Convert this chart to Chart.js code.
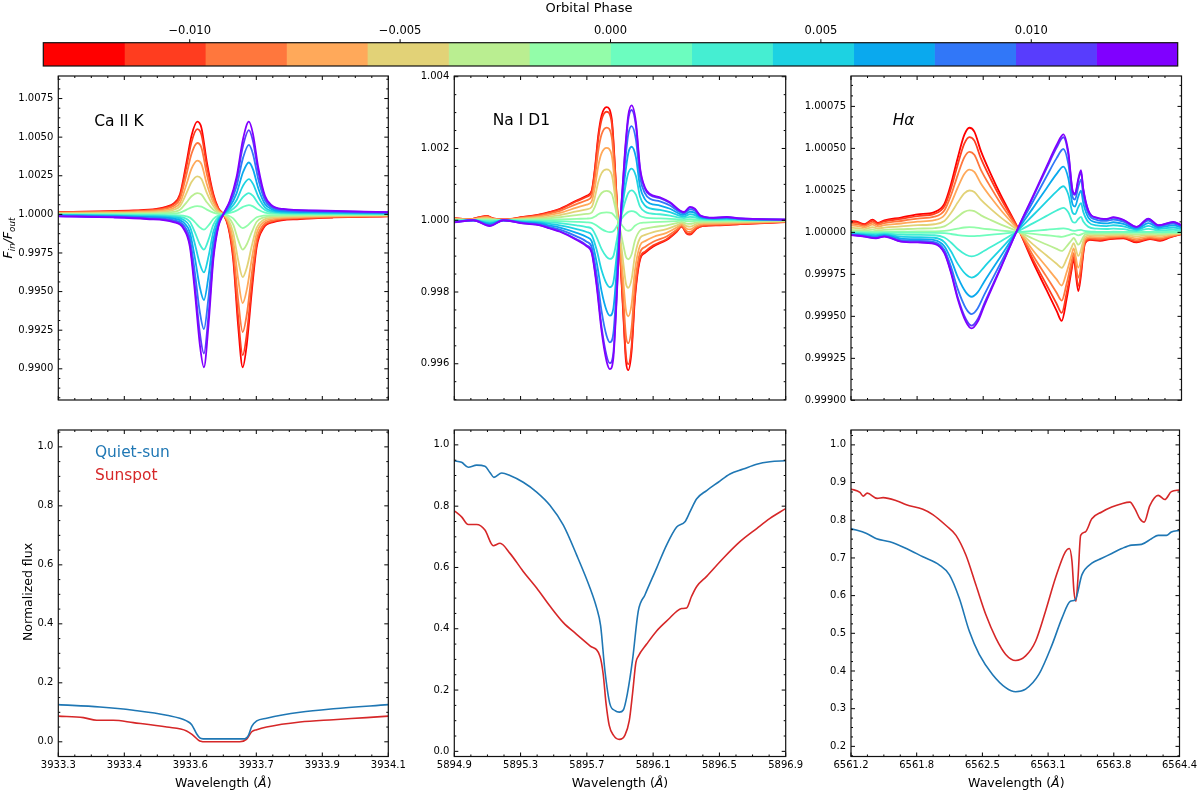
<!DOCTYPE html>
<html>
<head>
<meta charset="utf-8">
<script src="https://cdn.jsdelivr.net/npm/chart.js@4.4.1/dist/chart.umd.min.js"></script>
<style>
  html, body { margin: 0; padding: 0; background: #fff; }
  #fig { position: relative; width: 1200px; height: 791px; overflow: hidden; background: #fff; }
  #fig canvas { position: absolute; }
</style>
</head>
<body>
<div id="fig"></div>
<script>
const FONT = "'DejaVu Sans', sans-serif";

// orbital phase bins (colour bar) and their colours
const phaseEdges = [-0.01348, -0.01155, -0.00963, -0.00770, -0.00578, -0.00385, -0.00193, 0,
                    0.00193, 0.00385, 0.00578, 0.00770, 0.00963, 0.01155, 0.01348];
const phaseColors = ['#ff0000', '#ff3d1f', '#ff773d', '#ffa95a', '#e2d277', '#baee91', '#93fda9',
                     '#6cfdbf', '#45eed2', '#1dd2e2', '#0aa9ee', '#3177f8', '#583dfd', '#8000ff'];
const phaseTicks = [-0.010, -0.005, 0.000, 0.005, 0.010];

// top row: (F_in/F_out - 1) x 1e4 for the first (red) and last (purple) phase,
// and the relative amplitude of every phase curve
const caRedWl = [3933.300, 3933.401, 3933.482, 3933.538, 3933.563, 3933.579, 3933.595, 3933.611, 3933.623,
                 3933.637, 3933.647, 3933.660, 3933.676, 3933.688, 3933.700, 3933.712, 3933.724, 3933.736,
                 3933.747, 3933.757, 3933.769, 3933.781, 3933.797, 3933.821, 3933.886, 3933.967, 3934.100];
const caRedDev = [1.5, 2, 2.5, 3.5, 5, 7, 13, 34, 51, 60, 56, 34, 13, 4, 0, -8, -29, -72, -99, -84, -50, -21,
                  -9, -5, -3, -2, -1.3];
const caPurWl = [3933.300, 3933.433, 3933.514, 3933.579, 3933.603, 3933.619, 3933.631, 3933.643, 3933.653,
                 3933.664, 3933.676, 3933.688, 3933.700, 3933.716, 3933.732, 3933.748, 3933.762, 3933.772,
                 3933.785, 3933.801, 3933.817, 3933.845, 3933.926, 3934.100];
const caPurDev = [-1.3, -2, -3, -5, -9, -21, -50, -84, -99, -72, -29, -8, 0, 9, 24, 49, 60, 52, 30, 12, 6,
                  3.5, 2.5, 1.5];
const caAmp = [1, 0.92, 0.77, 0.58, 0.41, 0.23, 0.09, 0.1, 0.23, 0.38, 0.56, 0.75, 0.91, 1];

const naRedWl = [5894.900, 5894.995, 5895.055, 5895.095, 5895.135, 5895.196, 5895.316, 5895.417, 5895.477,
                 5895.538, 5895.638, 5895.699, 5895.729, 5895.749, 5895.769, 5895.789, 5895.819, 5895.850,
                 5895.870, 5895.884, 5895.900, 5895.920, 5895.936, 5895.950, 5895.970, 5895.990, 5896.021,
                 5896.051, 5896.101, 5896.181, 5896.242, 5896.272, 5896.302, 5896.322, 5896.363, 5896.403,
                 5896.503, 5896.624, 5896.900];
const naRedDev = [0.6, 0.3, 0.9, 1.2, 0.5, 0.2, 0.9, 1.6, 2.3, 3.2, 5.5, 6.8, 8.2, 14.6, 23.7, 29.2, 31.5,
                  28.3, 14.6, 2.7, -9.1, -26.5, -39.3, -41.8, -36.5, -21.9, -11.0, -9.1, -7.3, -5.5, -3.2,
                  -1.8, -3.7, -4.0, -2.3, -1.6, -1.4, -1.1, -0.5];
const naPurWl = [5894.900, 5895.015, 5895.115, 5895.196, 5895.316, 5895.417, 5895.477, 5895.538, 5895.638,
                 5895.699, 5895.729, 5895.759, 5895.789, 5895.819, 5895.839, 5895.860, 5895.880, 5895.896,
                 5895.910, 5895.930, 5895.950, 5895.970, 5895.996, 5896.021, 5896.051, 5896.081, 5896.141,
                 5896.202, 5896.262, 5896.286, 5896.322, 5896.352, 5896.383, 5896.463, 5896.544, 5896.624,
                 5896.900];
const naPurDev = [-0.6, 0, -1.6, 0, -0.9, -1.4, -2.3, -3.2, -5.5, -7.3, -9.1, -18.3, -31.0, -39.3, -41.5,
                  -38.4, -21.9, -5.5, 5.5, 19.2, 29.2, 32.0, 27.4, 14.6, 9.1, 7.3, 6.4, 5.0, 2.7, 2.3, 3.7,
                  3.2, 1.4, 0.7, 0.9, 0.5, 0.2];
const naAmp = [1, 0.96, 0.82, 0.64, 0.45, 0.26, 0.07, 0.08, 0.26, 0.45, 0.64, 0.82, 0.96, 1];

const haRedWl = [6561.200, 6561.265, 6561.329, 6561.410, 6561.458, 6561.523, 6561.684, 6561.845, 6562.007,
                 6562.104, 6562.168, 6562.233, 6562.297, 6562.346, 6562.394, 6562.459, 6562.555, 6562.652,
                 6562.817, 6562.965, 6563.094, 6563.191, 6563.240, 6563.288, 6563.337, 6563.356, 6563.401,
                 6563.466, 6563.514, 6563.611, 6563.708, 6563.837, 6563.966, 6564.095, 6564.192, 6564.289,
                 6564.400];
const haRedDev = [0.68, 0.62, 0.49, 0.76, 0.57, 0.72, 0.88, 1.07, 1.21, 1.7, 2.87, 4.43, 5.8, 6.23, 6.0, 4.82,
                  3.46, 2.2, 0.25, -1.82, -3.44, -4.67, -5.27, -3.96, -2.2, -1.6, -3.5, -0.65, -0.45, -0.5,
                  -0.4, -0.35, -0.6, -0.4, -0.5, -0.3, -0.1];
const haPurWl = [6561.200, 6561.265, 6561.329, 6561.442, 6561.523, 6561.684, 6561.845, 6562.007, 6562.104,
                 6562.168, 6562.233, 6562.313, 6562.368, 6562.426, 6562.491, 6562.652, 6562.817, 6562.965,
                 6563.094, 6563.191, 6563.256, 6563.304, 6563.346, 6563.369, 6563.401, 6563.427, 6563.449,
                 6563.498, 6563.579, 6563.675, 6563.740, 6563.837, 6563.966, 6564.079, 6564.176, 6564.321,
                 6564.400];
const haPurDev = [-0.16, -0.2, -0.25, -0.35, -0.25, -0.55, -0.6, -0.68, -1.23, -2.4, -3.96, -5.33, -5.72,
                  -5.33, -4.36, -2.1, 0.25, 2.2, 3.93, 5.2, 5.84, 4.8, 2.48, 2.3, 3.2, 3.7, 2.6, 1.31, 0.88,
                  0.8, 0.9, 0.75, 0.33, 0.82, 0.43, 0.62, 0.43];
const haAmp = [1, 0.91, 0.77, 0.60, 0.40, 0.21, 0.05, 0.04, 0.25, 0.47, 0.67, 0.85, 0.97, 1];

// bottom row: normalized flux, quiet sun and sunspot
const caQuietWl = [3933.300, 3933.401, 3933.482, 3933.563, 3933.611, 3933.623, 3933.635, 3933.643, 3933.651,
                   3933.700, 3933.752, 3933.761, 3933.769, 3933.781, 3933.805, 3933.886, 3933.967, 3934.100];
const caQuiet = [0.126, 0.118, 0.107, 0.090, 0.071, 0.059, 0.028, 0.013, 0.010, 0.010, 0.010, 0.022, 0.052,
                 0.071, 0.080, 0.100, 0.112, 0.126];
const caSpotWl = [3933.300, 3933.361, 3933.393, 3933.433, 3933.482, 3933.563, 3933.611, 3933.627, 3933.643,
                  3933.660, 3933.740, 3933.756, 3933.769, 3933.781, 3933.805, 3933.886, 3933.967, 3934.047,
                  3934.100];
const caSpot = [0.087, 0.082, 0.073, 0.073, 0.065, 0.050, 0.037, 0.022, 0.003, 0.0, 0.0, 0.008, 0.034, 0.041,
                0.050, 0.067, 0.075, 0.082, 0.087];

const naQuietWl = [5894.900, 5894.944, 5894.984, 5895.035, 5895.085, 5895.115, 5895.139, 5895.186, 5895.236,
                   5895.316, 5895.397, 5895.477, 5895.558, 5895.638, 5895.719, 5895.759, 5895.783, 5895.809,
                   5895.839, 5895.870, 5895.896, 5895.920, 5895.944, 5895.976, 5896.010, 5896.051, 5896.121,
                   5896.181, 5896.242, 5896.292, 5896.322, 5896.363, 5896.423, 5896.493, 5896.564, 5896.644,
                   5896.725, 5896.805, 5896.900];
const naQuiet = [0.948, 0.943, 0.927, 0.934, 0.930, 0.910, 0.894, 0.908, 0.900, 0.878, 0.846, 0.803, 0.738,
                 0.641, 0.533, 0.468, 0.410, 0.263, 0.155, 0.133, 0.128, 0.135, 0.187, 0.300, 0.457, 0.511,
                 0.598, 0.673, 0.732, 0.749, 0.781, 0.824, 0.851, 0.878, 0.905, 0.921, 0.937, 0.945, 0.948];
const naSpotWl = [5894.900, 5894.944, 5894.984, 5895.035, 5895.085, 5895.135, 5895.176, 5895.236, 5895.316,
                  5895.397, 5895.477, 5895.558, 5895.638, 5895.719, 5895.779, 5895.799, 5895.815, 5895.835,
                  5895.860, 5895.896, 5895.930, 5895.956, 5895.976, 5895.996, 5896.010, 5896.061, 5896.121,
                  5896.202, 5896.242, 5896.272, 5896.302, 5896.332, 5896.363, 5896.423, 5896.523, 5896.624,
                  5896.725, 5896.805, 5896.900];
const naSpot = [0.785, 0.765, 0.740, 0.740, 0.722, 0.671, 0.679, 0.646, 0.587, 0.533, 0.474, 0.420, 0.382,
                0.344, 0.310, 0.250, 0.160, 0.085, 0.053, 0.039, 0.053, 0.100, 0.190, 0.290, 0.310, 0.350,
                0.393, 0.436, 0.457, 0.466, 0.468, 0.506, 0.538, 0.571, 0.630, 0.684, 0.727, 0.760, 0.792];

const haQuietWl = [6561.200, 6561.352, 6561.449, 6561.578, 6561.739, 6561.900, 6562.062, 6562.159, 6562.255,
                   6562.352, 6562.449, 6562.578, 6562.707, 6562.804, 6562.901, 6563.030, 6563.159, 6563.256,
                   6563.337, 6563.385, 6563.449, 6563.546, 6563.643, 6563.740, 6563.837, 6563.934, 6564.030,
                   6564.127, 6564.192, 6564.273, 6564.321, 6564.400];
const haQuiet = [0.778, 0.765, 0.751, 0.743, 0.725, 0.703, 0.681, 0.655, 0.593, 0.506, 0.444, 0.391, 0.356,
                 0.345, 0.352, 0.391, 0.470, 0.541, 0.585, 0.589, 0.655, 0.686, 0.699, 0.712, 0.725, 0.734,
                 0.736, 0.751, 0.760, 0.760, 0.769, 0.773];
const haSpotWl = [6561.200, 6561.287, 6561.319, 6561.358, 6561.455, 6561.513, 6561.642, 6561.739, 6561.900,
                  6561.997, 6562.126, 6562.223, 6562.320, 6562.417, 6562.514, 6562.610, 6562.707, 6562.804,
                  6562.901, 6562.998, 6563.094, 6563.191, 6563.288, 6563.327, 6563.353, 6563.372, 6563.391,
                  6563.411, 6563.437, 6563.482, 6563.546, 6563.643, 6563.740, 6563.837, 6563.917, 6563.966,
                  6564.014, 6564.056, 6564.111, 6564.192, 6564.257, 6564.321, 6564.400];
const haSpot = [0.883, 0.874, 0.864, 0.872, 0.858, 0.860, 0.852, 0.841, 0.829, 0.815, 0.786, 0.760, 0.707,
                0.628, 0.549, 0.488, 0.444, 0.428, 0.440, 0.479, 0.558, 0.646, 0.716, 0.725, 0.690, 0.611,
                0.585, 0.646, 0.760, 0.769, 0.804, 0.822, 0.835, 0.844, 0.848, 0.830, 0.804, 0.795, 0.839,
                0.866, 0.855, 0.876, 0.880];

// ticks
const caXTicks = [3933.3, 3933.46, 3933.62, 3933.78, 3933.94, 3934.1];
const caXLabels = ['3933.3', '3933.4', '3933.6', '3933.7', '3933.9', '3934.1'];
const naXTicks = [5894.9, 5895.3, 5895.7, 5896.1, 5896.5, 5896.9];
const naXLabels = ['5894.9', '5895.3', '5895.7', '5896.1', '5896.5', '5896.9'];
const haXTicks = [6561.2, 6561.84, 6562.48, 6563.12, 6563.76, 6564.4];
const haXLabels = ['6561.2', '6561.8', '6562.5', '6563.1', '6563.8', '6564.4'];
const caYTicks = [0.9900, 0.9925, 0.9950, 0.9975, 1.0000, 1.0025, 1.0050, 1.0075];
const naYTicks = [0.996, 0.998, 1.000, 1.002, 1.004];
const haYTicks = [0.99900, 0.99925, 0.99950, 0.99975, 1.00000, 1.00025, 1.00050, 1.00075];
const fluxYTicks = [0.0, 0.2, 0.4, 0.6, 0.8, 1.0];
const haFluxYTicks = [0.2, 0.3, 0.4, 0.5, 0.6, 0.7, 0.8, 0.9, 1.0];

const QUIET = '#1f77b4', SPOT = '#d62728';
const fig = document.getElementById('fig');

function minorVals(major, min, max) {
  const step = (major[1] - major[0]) / 4, eps = step * 1e-3;
  let v = major[0];
  while (v - step >= min - eps) v -= step;
  const out = [];
  for (; v <= max + eps; v += step) {
    if (!major.some(m => Math.abs(m - v) < eps)) out.push(v);
  }
  return out;
}

function drawRich(ctx, t, ox, oy) {
  ctx.save();
  ctx.translate(t.x - ox, t.y - oy);
  if (t.rot) ctx.rotate(t.rot);
  ctx.fillStyle = t.color || '#000';
  ctx.textBaseline = 'alphabetic';
  const fontOf = p => (p.it ? 'italic ' : '') + (p.sub ? t.size * 0.7 : t.size) + 'px ' + FONT;
  let w = 0;
  t.parts.forEach(p => { ctx.font = fontOf(p); p.w = ctx.measureText(p.s).width; w += p.w; });
  let cx = t.align === 'left' ? 0 : -w / 2;
  t.parts.forEach(p => {
    ctx.font = fontOf(p);
    ctx.fillText(p.s, cx, p.sub ? t.size * 0.25 : 0);
    cx += p.w;
  });
  ctx.restore();
}

// box, inward ticks on all four sides, free texts
const frame = {
  id: 'frame',
  afterDraw(chart, args, o) {
    const { ctx, chartArea: a } = chart;
    const xs = chart.scales.x, ys = chart.scales.y;
    ctx.save();
    ctx.strokeStyle = '#000';
    ctx.lineWidth = 1;
    ctx.beginPath();
    const xt = (v, len) => {
      const p = xs.getPixelForValue(v);
      ctx.moveTo(p, a.bottom); ctx.lineTo(p, a.bottom - len);
      ctx.moveTo(p, a.top); ctx.lineTo(p, a.top + len);
    };
    const yt = (v, len) => {
      const p = ys.getPixelForValue(v);
      ctx.moveTo(a.left, p); ctx.lineTo(a.left + len, p);
      ctx.moveTo(a.right, p); ctx.lineTo(a.right - len, p);
    };
    o.xTicks.forEach(v => xt(v, 4));
    minorVals(o.xTicks, xs.min, xs.max).forEach(v => xt(v, 2));
    o.yTicks.forEach(v => yt(v, 4));
    minorVals(o.yTicks, ys.min, ys.max).forEach(v => yt(v, 2));
    ctx.stroke();
    ctx.lineWidth = 1.2;
    ctx.strokeStyle = '#111';
    ctx.strokeRect(a.left, a.top, a.right - a.left, a.bottom - a.top);
    (o.texts || []).forEach(t => drawRich(ctx, t, o.ox, o.oy));
    ctx.restore();
  }
};

function addPanel(cfg) {
  const cl = Math.floor(cfg.l) - 58, ct = Math.floor(cfg.t) - 8;
  const W = Math.ceil(cfg.r) + cfg.padR - cl;
  const H = Math.round(cfg.b + cfg.xh - ct);
  const cv = document.createElement('canvas');
  cv.width = W; cv.height = H;
  cv.style.left = cl + 'px'; cv.style.top = ct + 'px';
  cv.style.width = W + 'px'; cv.style.height = H + 'px';
  fig.appendChild(cv);
  const yw = cfg.l - cl;
  new Chart(cv, {
    type: 'line',
    data: { datasets: cfg.datasets },
    options: {
      responsive: false, animation: false, events: [],
      layout: { padding: { left: 0, top: cfg.t - ct, right: W - (cfg.r - cl), bottom: H - cfg.xh - (cfg.b - ct) } },
      plugins: {
        legend: { display: false }, tooltip: { enabled: false },
        frame: { xTicks: cfg.xTicks, yTicks: cfg.yTicks, ox: cl, oy: ct, texts: cfg.texts }
      },
      scales: {
        x: {
          type: 'linear', min: cfg.xMin, max: cfg.xMax,
          grid: { display: false, drawTicks: false }, border: { display: false },
          afterBuildTicks: s => { s.ticks = cfg.xTicks.map(v => ({ value: v })); },
          afterFit: s => { s.height = cfg.xh; },
          ticks: {
            display: !!cfg.xLabels, autoSkip: false, maxRotation: 0, padding: 3, color: '#000',
            font: { family: FONT, size: 10 },
            callback: (v, i) => cfg.xLabels ? cfg.xLabels[i] : ''
          }
        },
        y: {
          type: 'linear', min: cfg.yMin, max: cfg.yMax,
          grid: { display: false, drawTicks: false }, border: { display: false },
          afterBuildTicks: s => { s.ticks = cfg.yTicks.map(v => ({ value: v })); },
          afterFit: s => { s.width = yw; },
          ticks: {
            autoSkip: false, padding: 5, color: '#000', font: { family: FONT, size: 10 },
            callback: v => v.toFixed(cfg.yDec)
          }
        }
      }
    },
    plugins: [frame]
  });
}

function phaseCurves(redWl, redDev, purWl, purDev, amp) {
  return amp.map((a, k) => {
    const wl = k < 7 ? redWl : purWl, dev = k < 7 ? redDev : purDev;
    return {
      data: wl.map((w, i) => ({ x: w, y: 1 + a * dev[i] * 1e-4 })),
      borderColor: phaseColors[k], borderWidth: 1.8, pointRadius: 0,
      cubicInterpolationMode: 'monotone', fill: false, order: 13 - k
    };
  });
}

function fluxCurves(qWl, q, sWl, s) {
  const mk = (wl, v, c) => ({
    data: wl.map((w, i) => ({ x: w, y: v[i] })),
    borderColor: c, borderWidth: 1.6, pointRadius: 0, cubicInterpolationMode: 'monotone', fill: false
  });
  return [mk(qWl, q, QUIET), mk(sWl, s, SPOT)];
}

const cols = [{ l: 58.3, r: 388.3 }, { l: 454.3, r: 785.7 }, { l: 851, r: 1181.5 }];
const topRow = { t: 73.3, b: 402.7, xh: 8 };
const botRow = { t: 427.3, b: 756.5, xh: 34.5 };
const wlLabel = cx => ({ x: cx, y: 787.4, size: 12.5, parts: [{ s: 'Wavelength (' }, { s: 'Å', it: 1 }, { s: ')' }] });

// top row
addPanel({ ...cols[0], ...topRow, padR: 8, xMin: 3933.3, xMax: 3934.1, xTicks: caXTicks, xLabels: null,
  yMin: 0.98798, yMax: 1.00896, yTicks: caYTicks, yDec: 4,
  datasets: phaseCurves(caRedWl, caRedDev, caPurWl, caPurDev, caAmp),
  texts: [
    { x: 94.3, y: 126, size: 15.5, align: 'left', parts: [{ s: 'Ca II K' }] },
    { x: 12, y: 238, size: 12.5, rot: -Math.PI / 2,
      parts: [{ s: 'F', it: 1 }, { s: 'in', it: 1, sub: 1 }, { s: '/', it: 1 }, { s: 'F', it: 1 }, { s: 'out', it: 1, sub: 1 }] }
  ] });
addPanel({ ...cols[1], ...topRow, padR: 8, xMin: 5894.9, xMax: 5896.9, xTicks: naXTicks, xLabels: null,
  yMin: 0.99499, yMax: 1.00402, yTicks: naYTicks, yDec: 3,
  datasets: phaseCurves(naRedWl, naRedDev, naPurWl, naPurDev, naAmp),
  texts: [{ x: 492.7, y: 125, size: 15.5, align: 'left', parts: [{ s: 'Na I D1' }] }] });
addPanel({ ...cols[2], ...topRow, padR: 8, xMin: 6561.2, xMax: 6564.4, xTicks: haXTicks, xLabels: null,
  yMin: 0.999002, yMax: 1.000931, yTicks: haYTicks, yDec: 5,
  datasets: phaseCurves(haRedWl, haRedDev, haPurWl, haPurDev, haAmp),
  texts: [{ x: 892.7, y: 125, size: 15.5, align: 'left', parts: [{ s: 'Hα', it: 1 }] }] });

// bottom row
addPanel({ ...cols[0], ...botRow, padR: 22, xMin: 3933.3, xMax: 3934.1, xTicks: caXTicks, xLabels: caXLabels,
  yMin: -0.0498, yMax: 1.0572, yTicks: fluxYTicks, yDec: 1,
  datasets: fluxCurves(caQuietWl, caQuiet, caSpotWl, caSpot),
  texts: [
    { x: 95, y: 456.7, size: 15.4, align: 'left', color: QUIET, parts: [{ s: 'Quiet-sun' }] },
    { x: 95, y: 480, size: 15.4, align: 'left', color: SPOT, parts: [{ s: 'Sunspot' }] },
    { x: 32, y: 592, size: 12.5, rot: -Math.PI / 2, parts: [{ s: 'Normalized flux' }] },
    wlLabel(223.3)
  ] });
addPanel({ ...cols[1], ...botRow, padR: 22, xMin: 5894.9, xMax: 5896.9, xTicks: naXTicks, xLabels: naXLabels,
  yMin: -0.0168, yMax: 1.0485, yTicks: fluxYTicks, yDec: 1,
  datasets: fluxCurves(naQuietWl, naQuiet, naSpotWl, naSpot),
  texts: [wlLabel(620)] });
addPanel({ ...cols[2], ...botRow, padR: 18, xMin: 6561.2, xMax: 6564.4, xTicks: haXTicks, xLabels: haXLabels,
  yMin: 0.1731, yMax: 1.0395, yTicks: haFluxYTicks, yDec: 1,
  datasets: fluxCurves(haQuietWl, haQuiet, haSpotWl, haSpot),
  texts: [wlLabel(1016.3)] });

// colour bar
const cbarDecor = {
  id: 'cbarDecor',
  afterDraw(chart, args, o) {
    const { ctx, chartArea: a } = chart;
    const xs = chart.scales.x;
    ctx.save();
    ctx.strokeStyle = '#000';
    ctx.lineWidth = 1;
    ctx.beginPath();
    phaseTicks.forEach(v => {
      const p = xs.getPixelForValue(v);
      ctx.moveTo(p, a.top); ctx.lineTo(p, a.top - 3.5);
    });
    ctx.stroke();
    ctx.lineWidth = 1.2;
    ctx.strokeStyle = '#111';
    ctx.strokeRect(a.left, a.top, a.right - a.left, a.bottom - a.top);
    drawRich(ctx, { x: 589, y: 12, size: 13, parts: [{ s: 'Orbital Phase' }] }, o.ox, o.oy);
    ctx.restore();
  }
};

(function () {
  const cl = 33, W = 1157, H = 70;
  const cv = document.createElement('canvas');
  cv.width = W; cv.height = H;
  cv.style.left = cl + 'px'; cv.style.top = '0px';
  cv.style.width = W + 'px'; cv.style.height = H + 'px';
  fig.appendChild(cv);
  new Chart(cv, {
    type: 'bar',
    data: {
      labels: ['phase'],
      datasets: phaseColors.map((c, i) => ({
        data: [[phaseEdges[i], phaseEdges[i + 1]]],
        backgroundColor: c, borderWidth: 0, barPercentage: 1, categoryPercentage: 1, grouped: false
      }))
    },
    options: {
      indexAxis: 'y', responsive: false, animation: false, events: [],
      layout: { padding: { left: 43.3 - cl, right: W - (1177.7 - cl), top: 0, bottom: 4 } },
      plugins: { legend: { display: false }, tooltip: { enabled: false }, cbarDecor: { ox: cl, oy: 0 } },
      scales: {
        x: {
          type: 'linear', position: 'top', min: phaseEdges[0], max: phaseEdges[phaseEdges.length - 1],
          grid: { display: false, drawTicks: false }, border: { display: false },
          afterBuildTicks: s => { s.ticks = phaseTicks.map(v => ({ value: v })); },
          afterFit: s => { s.height = 42.7; },
          ticks: {
            autoSkip: false, maxRotation: 0, padding: 5, color: '#000', font: { family: FONT, size: 11.5 },
            callback: v => (v < 0 ? '\u2212' : '') + Math.abs(v).toFixed(3)
          }
        },
        y: { display: false }
      }
    },
    plugins: [cbarDecor]
  });
})();
</script>
</body>
</html>
